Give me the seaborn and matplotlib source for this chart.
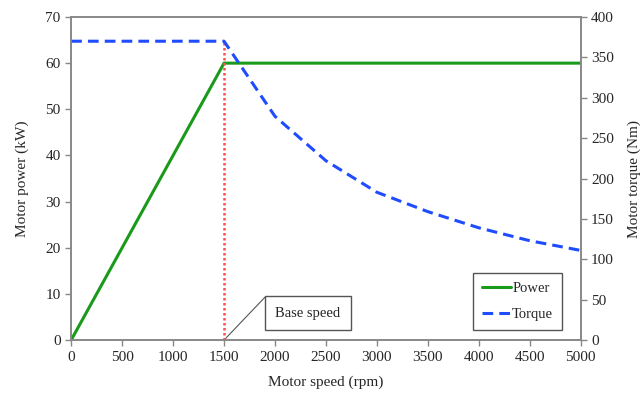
import pandas as pd
import matplotlib.pyplot as plt
import seaborn as sns

# data
speed = [0, 500, 1000, 1500, 2000, 2500, 3000, 3500, 4000, 4500, 5000]
power = [0, 20, 40, 60, 60, 60, 60, 60, 60, 60, 60]
torque_speed = [0, 1500, 2000, 2500, 3000, 3500, 4000, 4500, 5000]
torque = [370, 370, 277, 222, 183, 159, 139, 123, 111]
base_speed = 1500

sns.set_style("ticks")
plt.rcParams['font.family'] = ['Liberation Serif', 'DejaVu Serif']
plt.rcParams['font.size'] = 11

dfp = pd.DataFrame({"speed": speed, "power": power})
dft = pd.DataFrame({"speed": torque_speed, "torque": torque})

fig = plt.figure(figsize=(6.41, 3.95), dpi=100)
ax = fig.add_axes([0.111, 0.139, 0.795, 0.818])
ax2 = ax.twinx()

sns.lineplot(x="speed", y="power", data=dfp, ax=ax, color="#1a9a1a", lw=2.2, label="Power", legend=False)
sns.lineplot(x="speed", y="torque", data=dft, ax=ax2, color="#1f4cff", lw=2.2, ls=(0, (3.5, 2)), label="Torque", legend=False)
# base speed marker (red dotted)
ax2.plot([base_speed, base_speed], [0, torque[0]], color="#ff5050", ls=(0, (1, 1)), lw=1.8, zorder=1)

ax.set_xlim(0, 5000)
ax.set_ylim(0, 70)
ax2.set_ylim(0, 400)
ax.set_xticks(range(0, 5001, 500))
ax.set_yticks(range(0, 71, 10))
ax2.set_yticks(range(0, 401, 50))

ax.set_xlabel("Motor speed (rpm)", labelpad=9)
ax.set_ylabel("Motor power (kW)", labelpad=12)
ax2.set_ylabel("Motor torque (Nm)", labelpad=10)

for a in (ax, ax2):
    for s in a.spines.values():
        s.set_color("#888888")
        s.set_linewidth(1.2)
    a.tick_params(color="#888888", length=4, width=1.0, labelsize=11)

# callout box, leader line goes to the box's top-left corner
ax.annotate("Base speed", xy=(base_speed, 0), xycoords="data",
            xytext=(308, 395 - 313), textcoords="figure pixels",
            ha="center", va="center", fontsize=10.5,
            bbox=dict(boxstyle="square,pad=0.7", fc="white", ec="#555555", lw=1),
            arrowprops=dict(arrowstyle="-", color="#555555", lw=0.8, relpos=(-0.16, 1.72),
                            shrinkA=0, shrinkB=0, patchA=None))

h1, l1 = ax.get_legend_handles_labels()
h2, l2 = ax2.get_legend_handles_labels()
leg = ax2.legend(h1 + h2, l1 + l2, loc="lower right", bbox_to_anchor=(0.963, 0.031),
                 borderaxespad=0, fancybox=False, edgecolor="#555555", framealpha=1,
                 fontsize=10.5, handlelength=2.0, handletextpad=0.1,
                 labelspacing=0.9, borderpad=0.6)
leg.get_frame().set_linewidth(1)

fig.savefig("out.png", dpi=100)
